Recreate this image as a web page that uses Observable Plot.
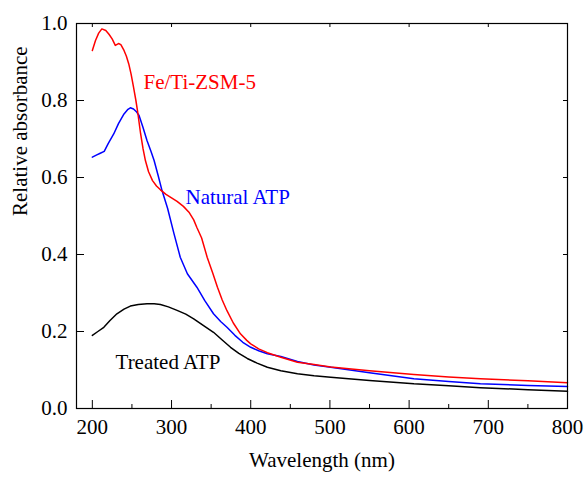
<!DOCTYPE html>
<html><head><meta charset="utf-8">
<script src="https://cdn.jsdelivr.net/npm/d3@7"></script>
<script src="https://cdn.jsdelivr.net/npm/@observablehq/plot@0.6"></script>
<style>
body{margin:0;background:#fff}
#chart svg, #chart svg text { font-family: "Liberation Serif", "LiberationSerif", "Tinos", "DejaVu Serif", "Times New Roman", Times, serif !important; }
</style>
</head><body><div id="chart"></div>
<script>
// Fe/Ti-ZSM-5 (red)
const redWl  = [200,204,208,212,217,221,225,229,233,236,240,243,246,249,252,255,257,261,264,267,271,276,281,286,293,300,307,315,322,328,332,338,345,352,358,364,370,378,387,395,400,410,421,438,459,480,501,550,606,650,690,750,800];
const redAbs = [0.93,0.956,0.975,0.986,0.982,0.972,0.96,0.943,0.948,0.945,0.93,0.915,0.895,0.868,0.835,0.80,0.774,0.713,0.675,0.644,0.615,0.592,0.578,0.568,0.556,0.547,0.538,0.525,0.51,0.49,0.47,0.443,0.393,0.352,0.315,0.282,0.254,0.222,0.194,0.177,0.168,0.155,0.145,0.133,0.12,0.114,0.108,0.098,0.088,0.082,0.077,0.072,0.067];
// Natural ATP (blue)
const blueWl  = [200,205,210,215,220,227,233,240,245,248,252,256,259,264,269,274,278,283,288,295,303,311,320,332,342,353,362,370,380,390,400,410,421,438,459,480,501,550,606,650,690,750,800];
const blueAbs = [0.653,0.658,0.663,0.668,0.688,0.713,0.74,0.765,0.777,0.781,0.778,0.77,0.761,0.73,0.696,0.668,0.644,0.606,0.566,0.52,0.455,0.393,0.35,0.315,0.28,0.246,0.226,0.211,0.19,0.172,0.159,0.15,0.142,0.135,0.122,0.113,0.107,0.093,0.077,0.07,0.064,0.06,0.057];
// Treated ATP (black)
const blackWl  = [200,207,214.5,222,231,240,248,258,269,278,286,296,307,318,328,340,353,364,374.5,385,395.6,408,421,438,459,480,501,550,606,650,690,750,800];
const blackAbs = [0.19,0.2,0.211,0.228,0.246,0.258,0.266,0.27,0.272,0.272,0.27,0.264,0.255,0.245,0.233,0.216,0.198,0.178,0.159,0.143,0.13,0.118,0.107,0.098,0.09,0.085,0.081,0.073,0.064,0.059,0.054,0.049,0.045];

const xMajor = [200,300,400,500,600,700,800];
const xMinor = [250,350,450,550,650,750];
const yMajor = [0,0.2,0.4,0.6,0.8,1.0];

const labelText  = ["Fe/Ti-ZSM-5","Natural ATP","Treated ATP"];
const labelX     = [264.6,317.6,229.3];
const labelY     = [0.848,0.549,0.1205];
const labelColor = ["#ff0000","#0000ff","#000000"];

const xTitle = "Wavelength (nm)";
const yTitle = "Relative absorbance";

const FONT = "'Liberation Serif', 'DejaVu Serif', serif";
const W = 585, H = 477, mL = 76, mR = 18, mT = 23, mB = 69;
const xDom = [180, 800], yDom = [0, 1];
const pxX = (W - mL - mR) / (xDom[1] - xDom[0]);
const pxY = (H - mT - mB) / (yDom[1] - yDom[0]);

const toRows = (wl, ab) => wl.map((w, i) => ({w, a: ab[i]}));
const labels = labelText.map((t, i) => ({t, x: labelX[i], y: labelY[i], c: labelColor[i]}));

const chart = Plot.plot({
  width: W, height: H,
  marginLeft: mL, marginRight: mR, marginTop: mT, marginBottom: mB,
  style: {fontFamily: FONT, fontSize: "21px", background: "#fff", color: "#000"},
  x: {domain: xDom},
  y: {domain: yDom},
  marks: [
    Plot.axisX({anchor: "bottom", ticks: xMajor, tickSize: 0, tickPadding: 11, label: null, tickFormat: d3.format("d"), fontFamily: FONT}),
    Plot.axisY({anchor: "left", ticks: yMajor, tickSize: 0, tickPadding: 9, label: null, tickFormat: d3.format(".1f"), fontFamily: FONT}),
    Plot.ruleX(xMajor, {x: d => d, y1: yDom[0], y2: yDom[0] + 8 / pxY, stroke: "#000"}),
    Plot.ruleX(xMinor, {x: d => d, y1: yDom[0], y2: yDom[0] + 4 / pxY, stroke: "#000"}),
    Plot.ruleX(xMajor, {x: d => d, y1: yDom[1], y2: yDom[1] - 4 / pxY, stroke: "#000"}),
    Plot.ruleY(yMajor, {y: d => d, x1: xDom[0], x2: xDom[0] + 8 / pxX, stroke: "#000"}),
    Plot.ruleY(yMajor, {y: d => d, x1: xDom[1], x2: xDom[1] - 4 / pxX, stroke: "#000"}),
    Plot.line(toRows(blackWl, blackAbs), {x: "w", y: "a", stroke: "#000000", strokeWidth: 1.5}),
    Plot.line(toRows(blueWl, blueAbs), {x: "w", y: "a", stroke: "#0000ff", strokeWidth: 1.5}),
    Plot.line(toRows(redWl, redAbs), {x: "w", y: "a", stroke: "#ff0000", strokeWidth: 1.5}),
    Plot.text(labels, {x: "x", y: "y", text: "t", fill: "c", textAnchor: "start", fontSize: 21, fontFamily: FONT}),
    Plot.text([xTitle], {frameAnchor: "bottom", dy: 58, fontSize: 21, fontFamily: FONT}),
    Plot.text([yTitle], {frameAnchor: "left", dx: -56, rotate: -90, fontSize: 21, fontFamily: FONT}),
    Plot.frame({stroke: "#000", strokeWidth: 1.2})
  ]
});
document.getElementById("chart").appendChild(chart);
</script>
</body></html>
